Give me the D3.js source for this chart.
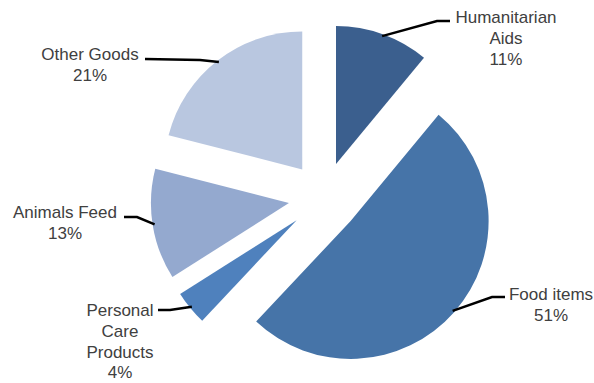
<!DOCTYPE html>
<html>
<head>
<meta charset="utf-8">
<script src="https://cdn.jsdelivr.net/npm/d3@7"></script>
<style>
  body { margin: 0; background: #fff; }
  svg text { font-family: "Liberation Sans", Arial, sans-serif; font-size: 17px; fill: #404040; }
</style>
</head>
<body>
<svg id="chart" width="594" height="383"></svg>
<script>
// data
var categories = ["Humanitarian Aids", "Food items", "Personal Care Products", "Animals Feed", "Other Goods"];
var values = [11, 51, 4, 13, 21];
var colors = ["#3b5f8e", "#4674a8", "#4f81bd", "#94a9cf", "#b9c7e0"];
// label lines (text split into lines)
var labelLines = [["Humanitarian", "Aids"], ["Food items"], ["Personal", "Care", "Products"], ["Animals Feed"], ["Other Goods"]];

// layout
var cx = 324, cy = 197.5, radius = 138, explode = 35.5;
// elbow / end of leader line and text position per slice
var labelLayout = [
  { elbow: [437, 21], end: [450, 21], tx: 506, ty: 23 },
  { elbow: [492, 297], end: [505, 297], tx: 551, ty: 300 },
  { elbow: [170, 310], end: [158, 310], tx: 120, ty: 316 },
  { elbow: [137, 217], end: [124, 217], tx: 65, ty: 218 },
  { elbow: [200, 60], end: [145, 59], tx: 90, ty: 60 }
];

var svg = d3.select("#chart");

var pie = d3.pie().sort(null).value(function(d) { return d; });
var arcs = pie(values);

var arc = d3.arc().innerRadius(0).outerRadius(radius);

function offset(d) {
  var a = (d.startAngle + d.endAngle) / 2;
  return [Math.sin(a) * explode, -Math.cos(a) * explode];
}

var g = svg.append("g").attr("transform", "translate(" + cx + "," + cy + ")");

// slices
g.selectAll("path.slice")
  .data(arcs)
  .enter()
  .append("path")
    .attr("class", "slice")
    .attr("d", arc)
    .attr("transform", function(d) { var o = offset(d); return "translate(" + o[0] + "," + o[1] + ")"; })
    .style("fill", function(d, i) { return colors[i]; });

// leader lines
svg.selectAll("polyline.leader")
  .data(arcs)
  .enter()
  .append("polyline")
    .attr("class", "leader")
    .attr("points", function(d, i) {
      var a = (d.startAngle + d.endAngle) / 2;
      var o = offset(d);
      var r = radius - 2;
      var p0 = [cx + o[0] + Math.sin(a) * r, cy + o[1] - Math.cos(a) * r];
      var L = labelLayout[i];
      return [p0, L.elbow, L.end].map(function(p) { return p.join(","); }).join(" ");
    })
    .style("fill", "none")
    .style("stroke", "#000")
    .style("stroke-width", 2.5);

// labels
var labels = svg.selectAll("text.label")
  .data(arcs)
  .enter()
  .append("text")
    .attr("class", "label")
    .attr("text-anchor", "middle")
    .attr("x", function(d, i) { return labelLayout[i].tx; })
    .attr("y", function(d, i) { return labelLayout[i].ty; });

labels.each(function(d, i) {
  var t = d3.select(this);
  var lines = labelLines[i].concat([values[i] + "%"]);
  lines.forEach(function(line, j) {
    t.append("tspan")
      .attr("x", labelLayout[i].tx)
      .attr("dy", j === 0 ? 0 : 20.8)
      .text(line);
  });
});
</script>
</body>
</html>
